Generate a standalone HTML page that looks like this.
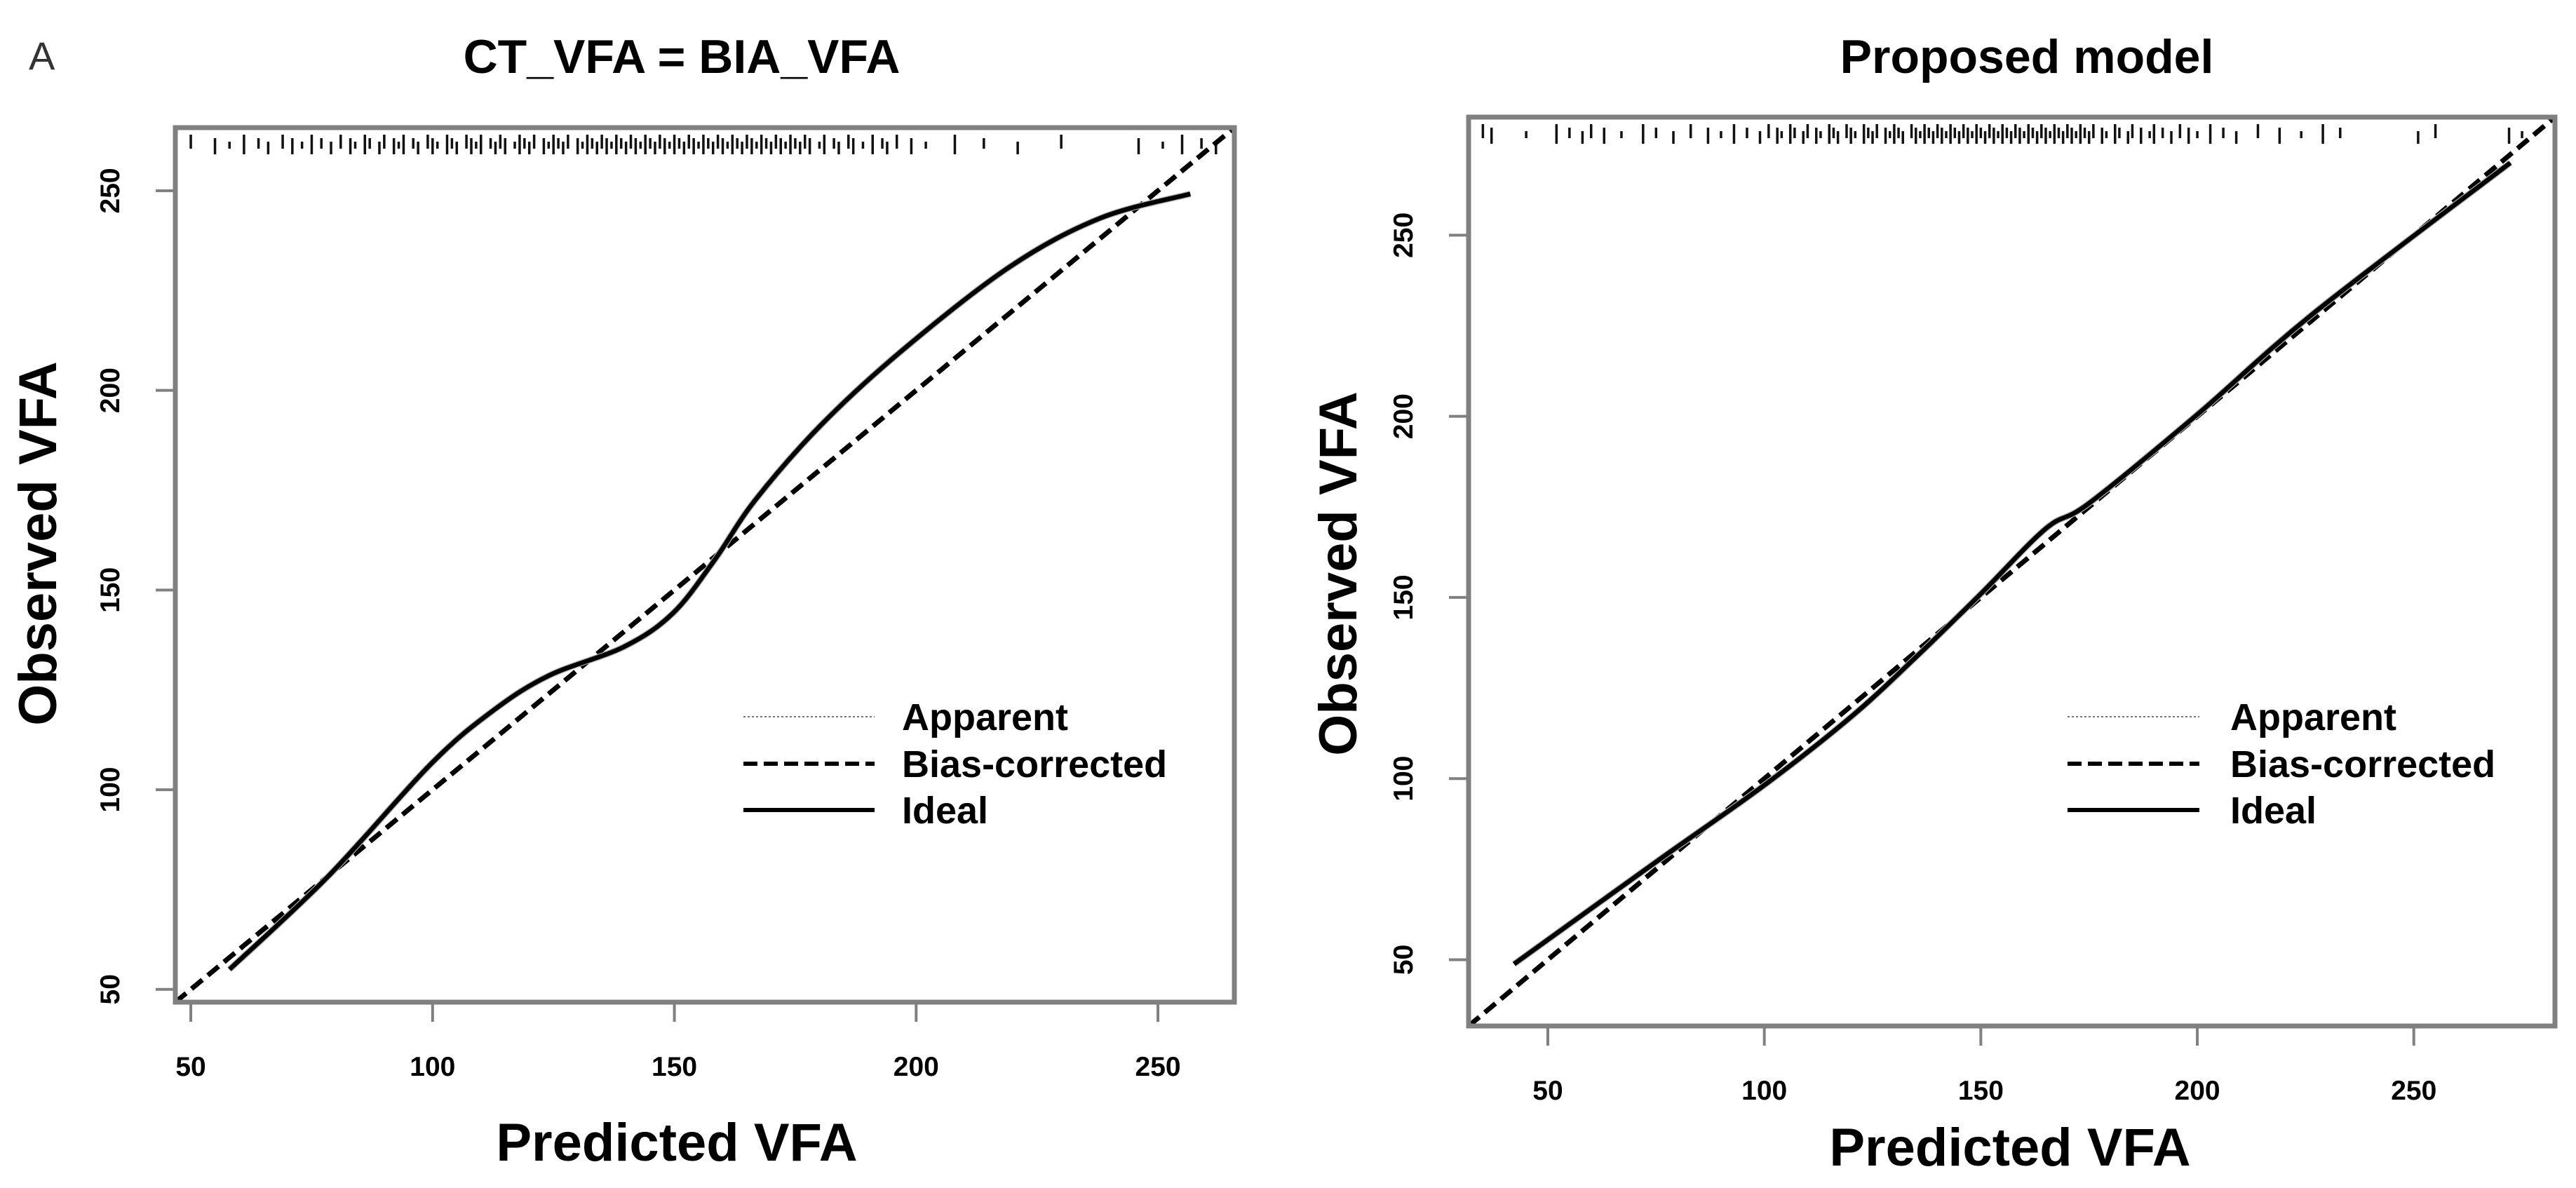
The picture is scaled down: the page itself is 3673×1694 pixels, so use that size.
<!DOCTYPE html>
<html><head><meta charset="utf-8">
<style>
html,body{margin:0;padding:0;background:#fff;}
svg{display:block;font-family:"Liberation Sans",sans-serif;}
</style></head>
<body>
<svg id="fig" width="3673" height="1694" viewBox="0 0 3673 1694" xmlns="http://www.w3.org/2000/svg">
<text x="41" y="99" font-size="56" fill="#333">A</text>
<g id="left"></g>
<g id="right"></g>
</svg>
<script>
// ---- Left panel data ----
const leftTicks = [50, 100, 150, 200, 250];
const leftIdealX = [58, 78.4, 99.7, 112.5, 124.1, 139.6, 149.7, 158.3, 166.7, 180.3, 197.2, 219.3, 238, 256.7];
const leftIdealY = [55, 78.3, 106.5, 119.8, 128.6, 135.8, 144.2, 157.5, 172.5, 191.3, 210.1, 230.9, 243.1, 249.2];
const leftRug = [50,55,58,61,64,66,69,71,73,75,77,79,81,83,84,86,87,89,90,92,93,94,96,97,99,100,101,103,104,105,107,108,109,110,112,113,114,115,117,118,119,120,121,123,124,125,126,127,128,130,131,132,133,134,135,136,137,138,139,140,141,142,143,144,145,146,147,148,149,150,151,152,153,154,155,156,157,158,159,160,161,162,163,164,165,166,167,168,169,170,171,172,173,174,175,176,177,178,180,181,183,184,186,187,189,191,193,194,196,199,202,208,214,221,230,246,251,255,259,262];
// ---- Right panel data ----
const rightTicks = [50, 100, 150, 200, 250];
const rightIdealX = [42.2, 75, 99.8, 120, 135, 150, 165, 175, 200, 226.9, 272.3];
const rightIdealY = [48.8, 77, 98, 117, 133.5, 151, 169, 176, 200.5, 228.5, 270];
const rightRug = [35,37,45,52,55,58,60,63,67,72,75,79,83,87,90,93,96,99,101,103,104,106,107,109,110,112,113,115,116,117,119,120,121,123,124,125,126,128,129,130,131,132,134,135,136,137,138,139,140,141,142,143,144,145,146,147,148,149,150,151,152,153,154,155,156,157,158,159,160,161,162,163,164,165,166,167,168,169,170,171,172,173,174,175,176,178,179,181,182,184,185,187,189,190,192,194,196,198,200,203,206,209,214,219,224,229,233,251,255,272,275];

const NS = "http://www.w3.org/2000/svg";
function mk(parent, tag, attrs){
  const e = document.createElementNS(NS, tag);
  for (const k in attrs) e.setAttribute(k, attrs[k]);
  parent.appendChild(e);
  return e;
}

function panel(g, cfg, ticks, ix, iy, rug){
  const sx = v => cfg.x0 + (v - cfg.d0) / (cfg.d1 - cfg.d0) * (cfg.x1 - cfg.x0);
  const sy = v => cfg.y1 - (v - cfg.d0) / (cfg.d1 - cfg.d0) * (cfg.y1 - cfg.y0);
  const t = mk(g, 'text', {x: cfg.tx, y: cfg.ty, 'font-size': 68, 'font-weight': 'bold', 'text-anchor': 'middle'});
  t.textContent = cfg.title;
  
  
  rug.forEach((v, i) => {
    const r = mk(g, 'line', {x1: sx(v), x2: sx(v), y1: cfg.y0 + 10 + (i % 3) * 5, y2: cfg.y0 + 30 + (i % 2) * 8, stroke: '#111', 'stroke-width': 3.5});
    
    
  });
  ticks.forEach(v => {
    const a = mk(g, 'line', {x1: sx(v), x2: sx(v), y1: cfg.y1, y2: cfg.y1 + 28, stroke: '#808080', 'stroke-width': 4});
    
    
    const l = mk(g, 'text', {x: sx(v), y: cfg.y1 + 105, 'font-size': 39, 'font-weight': 'bold', 'text-anchor': 'middle'});
    l.textContent = v;
    
    
    const b = mk(g, 'line', {x1: cfg.x0 - 28, x2: cfg.x0, y1: sy(v), y2: sy(v), stroke: '#808080', 'stroke-width': 4});
    
    
    const yl = mk(g, 'text', {x: 0, y: 0, 'font-size': 39, 'font-weight': 'bold', 'text-anchor': 'middle',
      transform: `translate(${cfg.x0 - 80},${sy(v)}) rotate(-90)`});
    yl.textContent = v;
    
    
  });
  const d = mk(g, 'line', {x1: sx(cfg.d0), y1: sy(cfg.d0), x2: sx(cfg.d1), y2: sy(cfg.d1), stroke: '#000', 'stroke-width': 7, 'stroke-dasharray': '20 10'});
  
  
  let pts = ix.map((v, i) => [sx(v), sy(iy[i])]);
  let p = `M${pts[0][0]},${pts[0][1]}`;
  for (let i = 0; i < pts.length - 1; i++) {
    const p0 = pts[Math.max(0, i - 1)], p1 = pts[i], p2 = pts[i + 1], p3 = pts[Math.min(pts.length - 1, i + 2)];
    const c1 = [p1[0] + (p2[0] - p0[0]) / 6, p1[1] + (p2[1] - p0[1]) / 6];
    const c2 = [p2[0] - (p3[0] - p1[0]) / 6, p2[1] - (p3[1] - p1[1]) / 6];
    p += ` C${c1[0]},${c1[1]} ${c2[0]},${c2[1]} ${p2[0]},${p2[1]}`;
  }
  const app = mk(g, 'path', {d: p, fill: 'none', stroke: '#aaa', 'stroke-width': 9});
  
  
  const c = mk(g, 'path', {d: p, fill: 'none', stroke: '#000', 'stroke-width': 6.5});
  
  
  const bx = mk(g, 'rect', {x: cfg.x0, y: cfg.y0, width: cfg.x1 - cfg.x0, height: cfg.y1 - cfg.y0, fill: 'none', stroke: '#808080', 'stroke-width': 7});
  
  
  const xt = mk(g, 'text', {x: cfg.xtx, y: cfg.xty, 'font-size': 76, 'font-weight': 'bold', 'text-anchor': 'middle'});
  xt.textContent = 'Predicted  VFA';
  
  
  const yt = mk(g, 'text', {x: 0, y: 0, 'font-size': 76, 'font-weight': 'bold', 'text-anchor': 'middle', transform: `translate(${cfg.ytx},${cfg.yty}) rotate(-90)`});
  yt.textContent = 'Observed VFA';
  
  
  const names = ['Apparent', 'Bias-corrected', 'Ideal'];
  const rows = [1022, 1089, 1155];
  names.forEach((n, i) => {
    const attrs = {x1: cfg.lx0, x2: cfg.lx1, y1: rows[i], y2: rows[i], stroke: i === 0 ? '#777' : '#000', 'stroke-width': i === 0 ? 2 : 6};
    if (i === 0) attrs['stroke-dasharray'] = '3 3';
    if (i === 1) attrs['stroke-dasharray'] = '20 9';
    const ln = mk(g, 'line', attrs);
    
    
    const tx = mk(g, 'text', {x: cfg.ltx, y: rows[i] + 19, 'font-size': 54, 'font-weight': 'bold'});
    tx.textContent = n;
    
    
  });
}

panel(document.getElementById('left'),
  {x0: 250, x1: 1760, y0: 182, y1: 1429, d0: 46.8, d1: 265.8, title: 'CT_VFA = BIA_VFA', tx: 972, ty: 104,
   xtx: 965, xty: 1655, ytx: 80, yty: 775, lx0: 1060, lx1: 1247, ltx: 1286},
  leftTicks, leftIdealX, leftIdealY, leftRug);
panel(document.getElementById('right'),
  {x0: 2094, x1: 3643, y0: 167, y1: 1463, d0: 31.7, d1: 282.6, title: 'Proposed model', tx: 2890, ty: 104,
   xtx: 2866, xty: 1662, ytx: 1934, yty: 818, lx0: 2948, lx1: 3136, ltx: 3180},
  rightTicks, rightIdealX, rightIdealY, rightRug);
</script>
</body></html>
